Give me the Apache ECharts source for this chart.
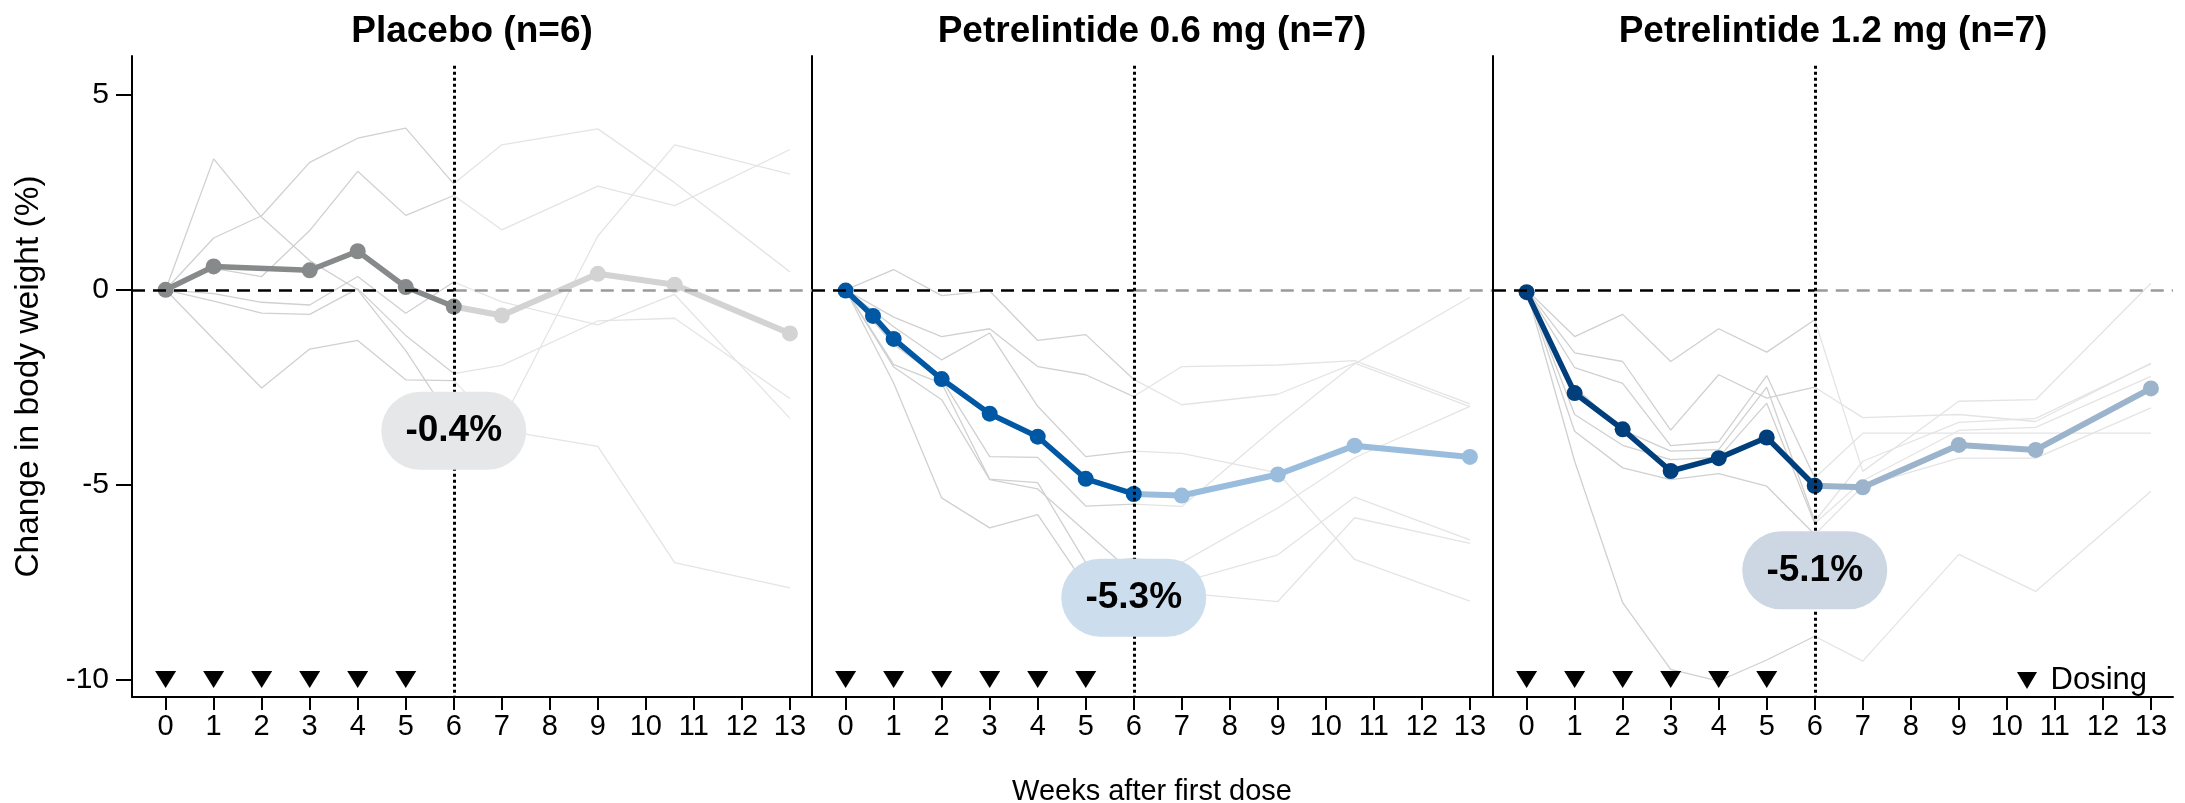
<!DOCTYPE html>
<html><head><meta charset="utf-8">
<script src="https://cdn.jsdelivr.net/npm/echarts@6/dist/echarts.min.js"></script>
<style>html,body{margin:0;padding:0;background:#fff}#c{width:2185px;height:803px}</style>
</head><body><div id="c"></div>
<script>
// ---------- data ----------
const panelTitles = ['Placebo (n=6)', 'Petrelintide 0.6 mg (n=7)', 'Petrelintide 1.2 mg (n=7)'];
const changeLabels = ['-0.4%', '-5.3%', '-5.1%'];
const weekTicks = [0,1,2,3,4,5,6,7,8,9,10,11,12,13];
const yTicks = [-10, -5, 0, 5];
const txWeeks = [0,1,2,3,4,5,6];
const fuWeeks = [6,7,9,10.6,13];
const dosingWeeks = [0,1,2,3,4,5];
const dosingLevel = -10;

// Placebo
const placeboMeanWeeks = [0,1,3,4,5,6];
const placeboMean = [0, 0.6, 0.5, 0.99, 0.07, -0.43];
const placeboMeanFu = [-0.43, -0.66, 0.41, 0.13, -1.12];
const placeboTx = [
  [0, 3.36, 1.86, 0.75, 0.0, -1.56, -3.44],
  [0, 1.33, 1.9, 3.27, 3.89, 4.15, 2.72],
  [0, 0.55, 0.34, 1.52, 3.04, 1.91, 2.42],
  [0, -0.1, -0.32, -0.39, 0.34, -0.6, 0.2],
  [0, -0.29, -0.6, -0.63, 0.03, -1.17, -2.15],
  [0, -1.27, -2.52, -1.52, -1.3, -2.31, -2.33]
];
const placeboFu = [
  [-3.44, -3.4, 1.38, 3.72, 2.97],
  [2.72, 3.72, 4.13, 2.75, 0.46],
  [2.42, 1.54, 2.66, 2.16, 3.6],
  [0.2, -0.31, -0.9, -0.12, -3.3],
  [-2.15, -1.94, -0.8, -0.73, -2.79],
  [-2.33, -3.6, -4.02, -7.0, -7.65]
];

// Petrelintide 0.6 mg
const lowMeanWeeks = [0, 0.57, 1, 2, 3, 4, 5, 6];
const lowMean = [-0.02, -0.67, -1.26, -2.29, -3.18, -3.77, -4.85, -5.24];
const lowMeanFu = [-5.24, -5.28, -4.74, -4.0, -4.29];
const lowTx = [
  [0, 0.52, -0.15, -0.03, -1.3, -1.15, -2.3],
  [0, -0.7, -1.2, -1.0, -1.97, -2.18, -2.74],
  [0, -0.95, -1.8, -1.11, -2.99, -4.28, -4.14],
  [0, -1.4, -2.3, -4.28, -4.3, -5.55, -5.5],
  [0, -1.92, -2.4, -4.86, -4.95, -7.0, -6.9],
  [0, -1.98, -2.82, -4.87, -5.11, -6.2, -7.3],
  [0, -2.39, -5.34, -6.11, -5.77, -7.59, -7.8]
];
const lowFu = [
  [-2.3, -2.95, -2.68, -1.88, -3.0],
  [-2.74, -1.97, -1.93, -1.82, -2.93],
  [-4.14, -4.2, -4.7, -6.92, -7.99],
  [-5.5, -5.56, -3.47, -1.9, -0.19],
  [-6.9, -7.0, -5.6, -4.31, -2.99],
  [-7.3, -7.5, -6.8, -5.32, -6.42],
  [-7.8, -7.78, -8.0, -5.85, -6.51]
];

// Petrelintide 1.2 mg
const highMeanWeeks = [0,1,2,3,4,5,6];
const highMean = [-0.06, -2.65, -3.58, -4.65, -4.32, -3.79, -5.03];
const highMeanFu = [-5.03, -5.07, -3.98, -4.11, -2.53];
const highTx = [
  [0, -1.2, -0.63, -1.84, -1.0, -1.6, -0.77],
  [0, -1.62, -1.84, -3.6, -2.18, -2.78, -2.5],
  [0, -2.0, -2.4, -4.0, -3.9, -2.2, -4.83],
  [0, -2.5, -3.6, -4.14, -4.1, -2.5, -5.94],
  [0, -3.2, -3.99, -4.36, -4.3, -2.91, -6.0],
  [0, -3.63, -4.57, -4.87, -4.72, -5.04, -6.28],
  [0, -4.4, -8.03, -9.74, -10.04, -9.5, -8.89]
];
const highFu = [
  [-0.77, -4.66, -2.86, -2.82, 0.17],
  [-2.5, -3.28, -3.2, -3.38, -1.88],
  [-4.83, -3.68, -3.68, -3.68, -3.68],
  [-5.94, -4.4, -3.4, -3.3, -1.9],
  [-6.0, -4.9, -3.61, -3.53, -2.22],
  [-6.28, -5.04, -4.32, -4.32, -3.03],
  [-8.89, -9.53, -6.79, -7.74, -5.17]
];

// ---------- styling / layout ----------
const FONT = '"Liberation Sans", Arial, Helvetica, sans-serif';
const meanColors = ['#878a8a', '#0058a4', '#003f7b'];
const fuColors = ['#d3d3d3', '#9abddd', '#9bb4cc'];
const bubbleColors = ['#e6e7e8', '#ccdded', '#ccd7e3'];
const bubbleAnchorY = [-3.62, -7.9, -7.2];
const X_MIN = -0.7, X_MAX = 13.46, Y_MIN = -10.45, Y_MAX = 6.0;
const gridLefts = [132, 812, 1493];
const GRID_W = 680, GRID_TOP = 56, GRID_H = 641;

const panels = [
  {mw: placeboMeanWeeks, m: placeboMean, mf: placeboMeanFu, tx: placeboTx, fu: placeboFu},
  {mw: lowMeanWeeks, m: lowMean, mf: lowMeanFu, tx: lowTx, fu: lowFu},
  {mw: highMeanWeeks, m: highMean, mf: highMeanFu, tx: highTx, fu: highFu}
];

const grids = [], xAxes = [], yAxes = [], series = [], titles = [];
panels.forEach((pn, p) => {
  grids.push({left: gridLefts[p], top: GRID_TOP, width: GRID_W, height: GRID_H, containLabel: false, outerBoundsMode: 'none'});
  titles.push({
    text: panelTitles[p], left: gridLefts[p] + GRID_W / 2, top: 13, textAlign: 'center', padding: 0,
    textStyle: {fontFamily: FONT, fontSize: 37, fontWeight: 'bold', color: '#000'}
  });
  xAxes.push({
    type: 'value', gridIndex: p, min: X_MIN, max: X_MAX,
    axisLine: {show: true, onZero: false, lineStyle: {color: '#000', width: 2}},
    axisTick: {show: true, customValues: weekTicks, length: 13, lineStyle: {color: '#000', width: 2}},
    axisLabel: {show: true, customValues: weekTicks, fontSize: 29, color: '#000', fontFamily: FONT, margin: 15},
    splitLine: {show: false},
    name: p === 1 ? 'Weeks after first dose' : '',
    nameLocation: 'middle', nameGap: 80,
    nameTextStyle: {fontSize: 29, color: '#000', fontFamily: FONT}
  });
  yAxes.push({
    type: 'value', gridIndex: p, min: Y_MIN, max: Y_MAX,
    axisLine: {show: true, onZero: false, lineStyle: {color: '#000', width: 2}},
    axisTick: {show: p === 0, customValues: yTicks, length: 16, lineStyle: {color: '#000', width: 2}},
    axisLabel: {show: p === 0, customValues: yTicks, fontSize: 30, color: '#000', fontFamily: FONT, margin: 23},
    splitLine: {show: false},
    name: p === 0 ? 'Change in body weight (%)' : '',
    nameLocation: 'middle', nameGap: 86, nameRotate: 90,
    nameTextStyle: {fontSize: 33.5, color: '#000', fontFamily: FONT}
  });

  const base = {xAxisIndex: p, yAxisIndex: p, animation: false, silent: true};
  pn.tx.forEach(v => series.push(Object.assign({}, base, {
    type: 'line', data: txWeeks.map((w, i) => [w, v[i]]), symbol: 'none',
    lineStyle: {color: '#d0d0d0', width: 1.3}, z: 1
  })));
  pn.fu.forEach(v => series.push(Object.assign({}, base, {
    type: 'line', data: fuWeeks.map((w, i) => [w, v[i]]), symbol: 'none',
    lineStyle: {color: '#e4e4e4', width: 1.3}, z: 1
  })));
  // reference lines
  series.push(Object.assign({}, base, {
    type: 'line', data: [], z: 2,
    markLine: {
      silent: true, symbol: 'none', label: {show: false}, animation: false,
      data: [
        [{coord: [X_MIN, 0], lineStyle: {color: '#000', type: [13, 8], width: 2.5}}, {coord: [6, 0]}],
        [{coord: [6, 0], lineStyle: {color: '#9a9a9a', type: [13, 8], width: 2.5}}, {coord: [X_MAX, 0]}],
        [{coord: [6, 5.75], lineStyle: {color: '#000', type: [3, 3], width: 3}}, {coord: [6, Y_MIN]}]
      ]
    }
  }));
  // mean follow-up
  series.push(Object.assign({}, base, {
    type: 'line', data: fuWeeks.map((w, i) => [w, pn.mf[i]]), symbol: 'circle', symbolSize: 16,
    lineStyle: {color: fuColors[p], width: 6}, itemStyle: {color: fuColors[p], opacity: 1}, z: 3
  }));
  // mean treatment
  series.push(Object.assign({}, base, {
    type: 'line', data: pn.mw.map((w, i) => [w, pn.m[i]]), symbol: 'circle', symbolSize: 16,
    lineStyle: {color: meanColors[p], width: 5.5}, itemStyle: {color: meanColors[p], opacity: 1}, z: 4
  }));
  // dosing
  series.push(Object.assign({}, base, {
    type: 'scatter', name: 'Dosing', data: dosingWeeks.map(w => [w, dosingLevel]),
    symbol: 'path://M0,0L20,0L10,17Z', symbolSize: [21, 17], itemStyle: {color: '#000', opacity: 1}, z: 5
  }));
  // change bubble
  series.push(Object.assign({}, base, {
    type: 'scatter', data: [[6, bubbleAnchorY[p]]], symbolSize: 1, itemStyle: {color: 'rgba(0,0,0,0)', opacity: 1}, z: 10,
    label: {
      show: true, position: 'inside', formatter: changeLabels[p], fontFamily: FONT, opacity: 1,
      fontSize: 37, fontWeight: 'bold', color: '#000', backgroundColor: bubbleColors[p],
      borderRadius: 40, width: 145, height: 78, lineHeight: 78, align: 'center', verticalAlign: 'middle'
    }
  }));
});

const chart = echarts.init(document.getElementById('c'), null, {renderer: 'canvas'});
chart.setOption({
  backgroundColor: '#fff',
  animation: false,
  textStyle: {fontFamily: FONT},
  title: titles,
  legend: {
    data: ['Dosing'], selectedMode: false, left: 2017, top: 665, padding: 0,
    icon: 'path://M0,0L20,0L10,17Z', itemWidth: 21, itemHeight: 17,
    itemStyle: {color: '#000', opacity: 1},
    textStyle: {fontSize: 31, color: '#000', fontFamily: FONT, padding: [0, 0, 0, 8]}
  },
  grid: grids, xAxis: xAxes, yAxis: yAxes, series: series
});
</script></body></html>
